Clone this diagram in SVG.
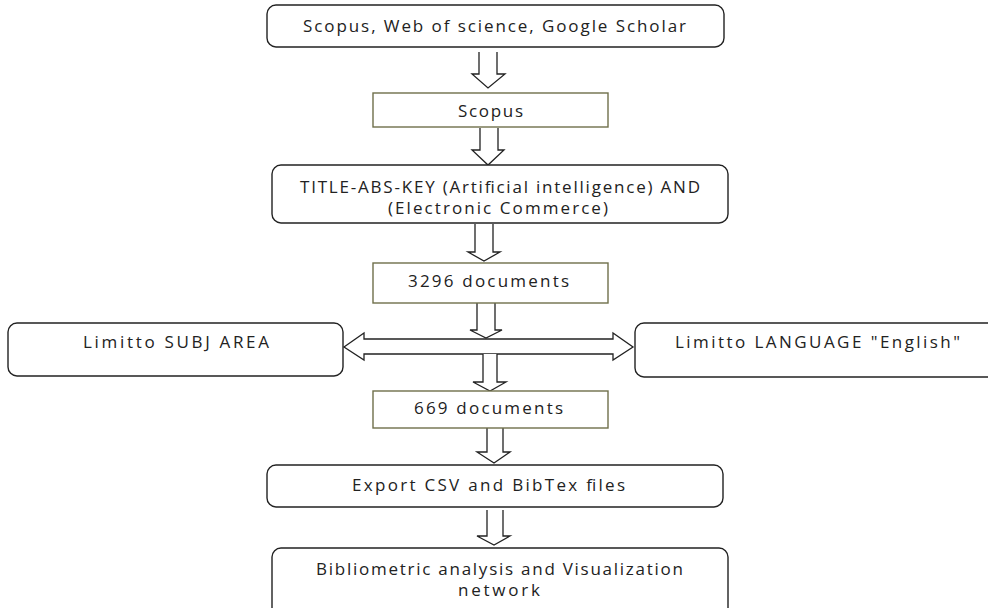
<svg xmlns="http://www.w3.org/2000/svg" width="988" height="608" viewBox="0 0 988 608">
<style>
.rb{fill:#fff;stroke:#222;stroke-width:1.4}
.sb{fill:#fff;stroke:#6f6f4a;stroke-width:1.4}
.ar{fill:#fff;stroke:#222;stroke-width:1.3;stroke-linejoin:miter}
text{font-family:"Open Sans","Liberation Sans",sans-serif;font-size:17px;fill:#222}
</style>
<rect width="988" height="608" fill="#fff"/>
<g id="connectors">
<path class="ar" d="M479,52 V74 H472 L488,88 L505,74 H497 V52"/>
<path class="ar" d="M480,128 V150 H472 L488,165 L504,150 H498 V128"/>
<path class="ar" d="M475,224 V252 H468 L484,261 L500,252 H493 V224"/>
<path class="ar" d="M477,303 V330 H470 L486,338 L502,330 H495 V303"/>
<path class="ar" d="M344,347 L364,333 V339 H613 V333 L633,347 L613,360 V354 H364 V360 Z"/>
<path class="ar" d="M483,354 V382 H473 L490,391 L506,382 H497 V354"/>
<path class="ar" d="M487,427 V452 H477 L494,463 L510,452 H503 V427"/>
<path class="ar" d="M487,510 V536 H477 L494,545 L510,536 H503 V510"/>
</g>
<g id="n1"><rect class="rb" x="267" y="5" width="457" height="42" rx="9"/><text x="303" y="32" textLength="383" lengthAdjust="spacing">Scopus, Web of science, Google Scholar</text></g>
<g id="n2"><rect class="sb" x="373" y="93" width="235" height="34"/><text x="458" y="117" textLength="65" lengthAdjust="spacing">Scopus</text></g>
<g id="n3"><rect class="rb" x="272" y="165" width="456" height="58" rx="9"/><text x="300" y="193" textLength="400" lengthAdjust="spacing">TITLE-ABS-KEY (Artificial intelligence) AND</text><text x="388" y="214" textLength="220" lengthAdjust="spacing">(Electronic Commerce)</text></g>
<g id="n4"><rect class="sb" x="373" y="263" width="235" height="40"/><text x="408" y="287" textLength="161" lengthAdjust="spacing">3296 documents</text></g>
<g id="n5"><rect class="rb" x="8" y="323" width="335" height="53" rx="9"/><text x="83" y="348" textLength="186" lengthAdjust="spacing">Limitto  SUBJ AREA</text></g>
<g id="n6"><rect class="rb" x="635" y="323" width="370" height="54" rx="9"/><text x="675" y="348" textLength="285" lengthAdjust="spacing">Limitto  LANGUAGE "English"</text></g>
<g id="n7"><rect class="sb" x="373" y="391" width="235" height="37"/><text x="414" y="414" textLength="149" lengthAdjust="spacing">669 documents</text></g>
<g id="n8"><rect class="rb" x="267" y="465" width="456" height="42" rx="9"/><text x="352" y="491" textLength="273" lengthAdjust="spacing">Export CSV and BibTex files</text></g>
<g id="n9"><rect class="rb" x="272" y="548" width="456" height="70" rx="9"/><text x="316" y="575" textLength="367" lengthAdjust="spacing">Bibliometric analysis and Visualization</text><text x="458" y="596" textLength="82" lengthAdjust="spacing">network</text></g>
</svg>
